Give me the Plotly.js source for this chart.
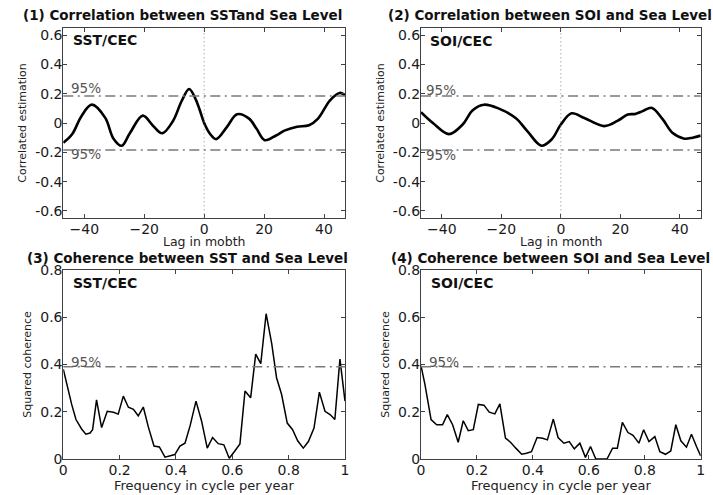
<!DOCTYPE html>
<html>
<head>
<meta charset="utf-8">
<script src="https://cdn.plot.ly/plotly-3.0.1.min.js"></script>
<style>html,body{margin:0;padding:0;background:#fff;}#chart{width:713px;height:495px;}</style>
</head>
<body>
<div id="chart"></div>
<script>
// ---- data ----
const lagSST = [-47,-44,-41,-37.5,-33,-30.3,-27.5,-24.8,-20.5,-17,-14,-10.5,-7.5,-5,-3,-1.5,0,2,4,7.5,11,15,17.5,20.2,24,27,31,35,38,42,45.2,47];
const corrSST = [-0.135,-0.075,0.045,0.125,0.035,-0.105,-0.155,-0.07,0.05,-0.02,-0.07,0.01,0.15,0.232,0.17,0.09,0.0,-0.075,-0.11,-0.03,0.06,0.03,-0.04,-0.117,-0.085,-0.05,-0.025,-0.015,0.03,0.155,0.205,0.19];

const lagSOI = [-47,-43,-37.6,-33,-29.7,-25.8,-20.8,-15.2,-11.2,-6.5,-3,0,3.6,7.9,14.6,19,22.5,25,27.5,30.6,34.2,37.6,41.5,44.3,47];
const corrSOI = [0.074,0.0,-0.076,-0.01,0.086,0.125,0.098,0.034,-0.057,-0.155,-0.11,-0.01,0.066,0.034,-0.021,0.014,0.058,0.062,0.081,0.103,0.026,-0.069,-0.107,-0.1,-0.086];

const freqSST = [0,0.018,0.03,0.045,0.065,0.08,0.095,0.104,0.118,0.136,0.156,0.178,0.195,0.213,0.231,0.249,0.266,0.284,0.302,0.322,0.341,0.361,0.379,0.396,0.414,0.432,0.45,0.471,0.491,0.511,0.53,0.55,0.57,0.589,0.607,0.627,0.645,0.665,0.683,0.701,0.72,0.74,0.757,0.775,0.795,0.814,0.832,0.852,0.87,0.89,0.909,0.929,0.947,0.964,0.982,1.0];
const cohSST = [0.38,0.285,0.23,0.167,0.127,0.105,0.11,0.124,0.25,0.133,0.202,0.198,0.19,0.266,0.219,0.21,0.183,0.22,0.135,0.055,0.051,0.008,0.015,0.019,0.055,0.067,0.14,0.245,0.16,0.046,0.091,0.065,0.06,0.003,0.031,0.064,0.288,0.259,0.444,0.404,0.615,0.487,0.344,0.273,0.152,0.124,0.077,0.046,0.074,0.131,0.283,0.202,0.188,0.167,0.423,0.245];

const freqSOI = [0,0.014,0.036,0.056,0.077,0.094,0.113,0.133,0.151,0.169,0.187,0.205,0.225,0.244,0.264,0.282,0.302,0.32,0.339,0.36,0.377,0.395,0.415,0.435,0.452,0.473,0.49,0.511,0.53,0.548,0.568,0.588,0.606,0.625,0.645,0.665,0.685,0.702,0.72,0.74,0.758,0.779,0.796,0.815,0.836,0.854,0.874,0.893,0.911,0.929,0.949,0.967,0.985,1.0];
const cohSOI = [0.395,0.316,0.167,0.145,0.145,0.188,0.145,0.071,0.162,0.12,0.124,0.231,0.228,0.198,0.191,0.233,0.088,0.071,0.046,0.02,0.024,0.031,0.091,0.088,0.081,0.169,0.091,0.067,0.074,0.043,0.067,0.007,0.053,0.0,0.0,0.0,0.046,0.046,0.155,0.112,0.1,0.067,0.124,0.074,0.095,0.031,0.02,0.034,0.145,0.077,0.05,0.105,0.053,0.013];

const sigCorr = 0.185;   // 95% level for correlation
const sigCoh = 0.39;     // 95% level for squared coherence

// tick labels
const corrTickVals = [-0.6,-0.4,-0.2,0,0.2,0.4,0.6];
const corrTickText = ['-0.6','-0.4','-0.2','0','0.2','0.4','0.6'];
const cohTickVals = [0,0.2,0.4,0.6,0.8];
const cohTickText = ['0','0.2','0.4','0.6','0.8'];

const titles = ['(1) Correlation between SSTand Sea Level','(2) Correlation between SOI and Sea Level',
                '(3) Coherence between SST and Sea Level','(4) Coherence between SOI and Sea Level'];
const tags = ['SST/CEC','SOI/CEC','SST/CEC','SOI/CEC'];
const xTitles = ['Lag in mobth','Lag in month','Frequency in cycle per year','Frequency in cycle per year'];
const yTitles = ['Correlated estimation','Correlated estimation','Squared coherence','Squared coherence'];

// ---- drawing ----
const W = 713, H = 495;
const px = v => v / W, py = v => 1 - v / H;
const FONT = 'DejaVu Sans, Arial, sans-serif';
const AX = '#404040';

const traces = [
  {x: lagSST, y: corrSST, xaxis:'x', yaxis:'y', mode:'lines', line:{color:'#000', width:2.6, shape:'spline', smoothing:1}},
  {x: lagSOI, y: corrSOI, xaxis:'x2', yaxis:'y2', mode:'lines', line:{color:'#000', width:2.6, shape:'spline', smoothing:1}},
  {x: freqSST, y: cohSST, xaxis:'x3', yaxis:'y3', mode:'lines', line:{color:'#000', width:1.5}},
  {x: freqSOI, y: cohSOI, xaxis:'x4', yaxis:'y4', mode:'lines', line:{color:'#000', width:1.5}}
];

function axis(domain, range, isY) {
  return {
    domain: domain, range: range,
    showline: true, linecolor: AX, linewidth: 1, mirror: 'ticks',
    ticks: 'inside', ticklen: 4, tickcolor: AX, tickwidth: 1,
    showgrid: false, zeroline: false, fixedrange: true,
    ticklabelstandoff: isY ? -3 : -2,
    tickfont: {family: FONT, size: 14, color: '#1a1a1a'},
    automargin: false
  };
}
function xAx(domain, range, dtick, anchor) {
  return Object.assign(axis(domain, range, false), {dtick: dtick, tick0: 0, anchor: anchor});
}
function yAx(domain, range, vals, text, title, anchor) {
  return Object.assign(axis(domain, range, true), {tickmode: 'array', tickvals: vals, ticktext: text, anchor: anchor,
    title: {text: title, standoff: 6, font: {family: FONT, size: 11, color: '#222'}}});
}

const xd1 = [px(63.3), px(345)], xd2 = [px(421), px(700.7)];
const yd1 = [py(218.3), py(27.7)], yd2 = [py(459), py(270)];

const dashdot = '10px,4.5px,2px,4.5px';
const shapes = [];
[['x','y'],['x2','y2']].forEach(([xa, ya]) => {
  [sigCorr, -sigCorr].forEach(v => shapes.push({type:'line', xref: xa + ' domain', yref: ya, x0:0, x1:1, y0:v, y1:v,
    line:{color:'#7a7a7a', width:1.5, dash: dashdot}}));
  shapes.push({type:'line', xref: xa, yref: ya + ' domain', x0:0, x1:0, y0:0, y1:1, line:{color:'#8a8a8a', width:1, dash:'1px,3px'}});
});
[['x3','y3'],['x4','y4']].forEach(([xa, ya]) => {
  shapes.push({type:'line', xref: xa + ' domain', yref: ya, x0:0, x1:1, y0:sigCoh, y1:sigCoh,
    line:{color:'#7a7a7a', width:1.5, dash: dashdot}});
});

const ann = [];
const titlePos = [[182.5, 15.5], [549.7, 15.5], [187.5, 258], [550, 258]];
titles.forEach((t, i) => ann.push({text: t, xref:'paper', yref:'paper', x: px(titlePos[i][0]), y: py(titlePos[i][1]),
  xanchor:'center', yanchor:'middle', showarrow:false, font:{family: FONT, size: 13.5, color:'#111', weight:'bold'}}));
const xTitlePos = [[204, 241], [561, 241], [204, 485.5], [561, 485.5]];
const xTitleSize = [12.5, 12.5, 13, 13];
xTitles.forEach((t, i) => ann.push({text: t, xref:'paper', yref:'paper', x: px(xTitlePos[i][0]), y: py(xTitlePos[i][1]),
  xanchor:'center', yanchor:'middle', showarrow:false, font:{family: FONT, size: xTitleSize[i], color:'#222'}}));
const tagPos = [[71, 40], [428, 41.5], [71, 283.3], [429, 283.3]];
tags.forEach((t, i) => ann.push({text: t, xref:'paper', yref:'paper', x: px(tagPos[i][0]), y: py(tagPos[i][1]),
  xanchor:'left', yanchor:'middle', showarrow:false, font:{family: FONT, size: 14, color:'#111', weight:'bold'}}));
const pctPos = [[69, 88], [69, 154], [424, 90], [424, 155], [69, 361.7], [427, 362]];
pctPos.forEach(p => ann.push({text: '95%', xref:'paper', yref:'paper', x: px(p[0]), y: py(p[1]),
  xanchor:'left', yanchor:'middle', showarrow:false, font:{family: FONT, size: 13.5, color:'#555'}}));

const layout = {
  width: W, height: H, margin: {l:0, r:0, t:0, b:0},
  paper_bgcolor: '#fff', plot_bgcolor: '#fff', showlegend: false,
  xaxis:  xAx(xd1, [-47, 47], 20, 'y'),
  yaxis:  yAx(yd1, [-0.65, 0.65], corrTickVals, corrTickText, yTitles[0], 'x'),
  xaxis2: xAx(xd2, [-47, 47], 20, 'y2'),
  yaxis2: yAx(yd1, [-0.65, 0.65], corrTickVals, corrTickText, yTitles[1], 'x2'),
  xaxis3: xAx(xd1, [0, 1], 0.2, 'y3'),
  yaxis3: yAx(yd2, [0, 0.8], cohTickVals, cohTickText, yTitles[2], 'x3'),
  xaxis4: xAx(xd2, [0, 1], 0.2, 'y4'),
  yaxis4: yAx(yd2, [0, 0.8], cohTickVals, cohTickText, yTitles[3], 'x4'),
  shapes: shapes, annotations: ann
};

Plotly.newPlot('chart', traces, layout, {staticPlot: true, displayModeBar: false});
</script>
</body>
</html>
